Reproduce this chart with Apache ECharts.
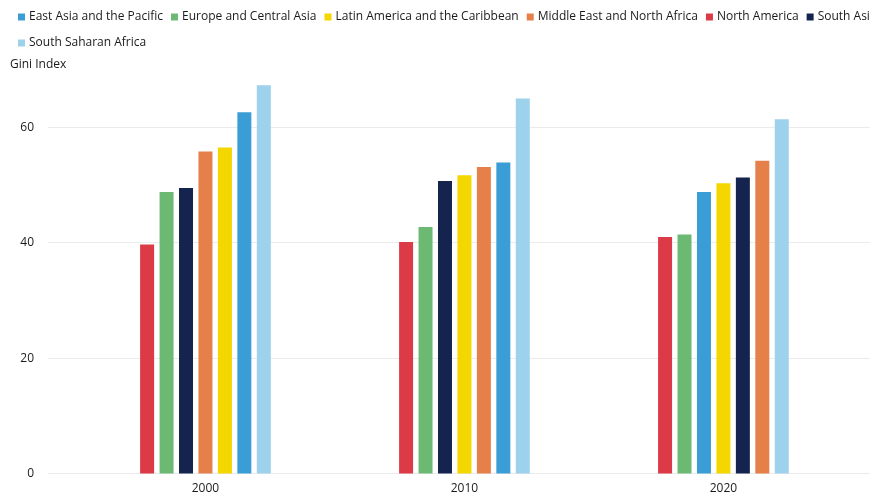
<!DOCTYPE html>
<html>
<head>
<meta charset="utf-8">
<title>Gini Index by region</title>
<script src="https://cdn.jsdelivr.net/npm/echarts@6/dist/echarts.min.js"></script>
<style>
  html, body { margin: 0; padding: 0; background: #ffffff; }
  #chart { width: 870px; height: 495px; }
</style>
</head>
<body>
<div id="chart"></div>
<script>
// Years on the horizontal axis
const years = ['2000', '2010', '2020'];

// Region names, in legend order
const regions = [
  'East Asia and the Pacific',
  'Europe and Central Asia',
  'Latin America and the Caribbean',
  'Middle East and North Africa',
  'North America',
  'South Asia',
  'South Saharan Africa'
];

// Gini index per region, one value per year
const eastAsiaPacific     = [62.6, 53.9, 48.8];
const europeCentralAsia   = [48.8, 42.7, 41.4];
const latinAmericaCarib   = [56.5, 51.7, 50.3];
const middleEastNAfrica   = [55.8, 53.1, 54.2];
const northAmerica        = [39.7, 40.1, 41.0];
const southAsia           = [49.5, 50.7, 51.3];
const southSaharanAfrica  = [67.3, 65.0, 61.4];

// Y-axis ticks
const yTicks = [0, 20, 40, 60];

const regionValues = [
  eastAsiaPacific, europeCentralAsia, latinAmericaCarib,
  middleEastNAfrica, northAmerica, southAsia, southSaharanAfrica
];

const regionColors = [
  '#3b9dd5', '#6cb974', '#f4d600', '#e5804a', '#dd3a47', '#15244e', '#9dd1ec'
];

// Within each year the bars are ordered from lowest to highest value
const ranks = regionValues.map(() => []);
years.forEach((_, yi) => {
  const order = regionValues
    .map((vals, ri) => ({ ri, v: vals[yi] }))
    .sort((a, b) => a.v - b.v);
  order.forEach((o, pos) => { ranks[o.ri][yi] = pos; });
});

const BAR_WIDTH = 14;
const BAR_PITCH = 19.45;

function makeRenderItem(ri) {
  return function (params, api) {
    const yi = api.value(0);
    const v = api.value(1);
    const base = api.coord([yi, 0]);
    const top = api.coord([yi, v]);
    const n = regionValues.length;
    const cx = base[0] + (ranks[ri][yi] - (n - 1) / 2) * BAR_PITCH;
    return {
      type: 'rect',
      shape: { x: cx - BAR_WIDTH / 2, y: top[1], width: BAR_WIDTH, height: base[1] - top[1] },
      style: api.style()
    };
  };
}

const chart = echarts.init(document.getElementById('chart'), null, { renderer: 'canvas' });

const font = '"Open Sans", "Noto Sans", sans-serif';

chart.setOption({
  animation: false,
  textStyle: { fontFamily: font },
  title: {
    text: 'Gini Index',
    left: 10,
    top: 59,
    padding: 0,
    textStyle: { fontFamily: font, fontSize: 12, fontWeight: 'normal', color: '#1a1a1a' }
  },
  legend: {
    data: regions,
    left: 18,
    top: 8,
    width: 920,
    padding: 0,
    itemGap: 8,
    itemWidth: 7,
    itemHeight: 7,
    icon: 'rect',
    textStyle: { fontFamily: font, fontSize: 12, color: '#1a1a1a', lineHeight: 18, padding: [0, 0, 0, -1] }
  },
  grid: { left: 48, right: 0, top: 69.6, bottom: 21.5, containLabel: false },
  xAxis: {
    type: 'value',
    min: -0.608,
    max: 2.566,
    splitLine: { show: false },
    axisLine: { show: false },
    axisTick: { show: false },
    axisLabel: {
      customValues: [0, 1, 2],
      formatter: v => years[Math.round(v)],
      fontFamily: font,
      fontSize: 12,
      color: '#1a1a1a',
      margin: 9
    }
  },
  yAxis: {
    type: 'value',
    min: 0,
    max: 70,
    interval: 20,
    axisLine: { show: false },
    axisTick: { show: false },
    axisLabel: {
      showMaxLabel: false,
      fontFamily: font,
      fontSize: 12,
      color: '#1a1a1a',
      margin: 14,
      formatter: v => (yTicks.indexOf(v) >= 0 ? String(v) : '')
    },
    splitLine: {
      show: true,
      showMaxLine: false,
      lineStyle: { color: '#ebebeb', width: 1 }
    }
  },
  series: regions.map((name, ri) => ({
    type: 'custom',
    name: name,
    itemStyle: { color: regionColors[ri] },
    encode: { x: 0, y: 1 },
    renderItem: makeRenderItem(ri),
    data: regionValues[ri].map((v, yi) => [yi, v])
  }))
});
</script>
</body>
</html>
